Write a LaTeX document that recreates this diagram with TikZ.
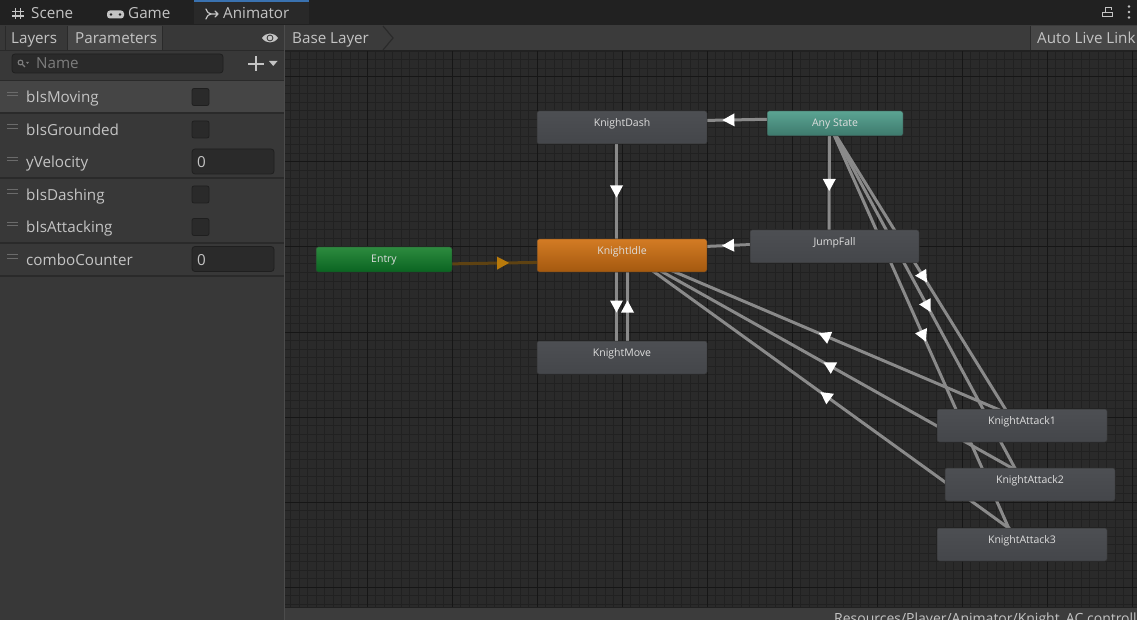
\documentclass[tikz,border=0pt]{standalone}
\usepackage{fontspec}
\setmainfont{Open Sans}
\usetikzlibrary{calc,decorations.markings}
\definecolor{gridbg}{HTML}{2a2a2a}
\definecolor{gridminor}{HTML}{212121}
\definecolor{gridmajor}{HTML}{161616}
\definecolor{panelbg}{HTML}{383838}
\definecolor{rowsel}{HTML}{454545}
\definecolor{sepline}{HTML}{2a2a2a}
\definecolor{topbar}{HTML}{212121}
\definecolor{tabsel}{HTML}{292929}
\definecolor{tabblue}{HTML}{3a72b0}
\definecolor{partab}{HTML}{464646}
\definecolor{crumb}{HTML}{3b3b3b}
\definecolor{btn}{HTML}{474747}
\definecolor{txt}{HTML}{c4c4c4}
\definecolor{dimtxt}{HTML}{7d7d7d}
\definecolor{fieldbg}{HTML}{2a2a2a}
\definecolor{fieldbd}{HTML}{1f1f1f}
\definecolor{handle}{HTML}{6b6b6b}
\definecolor{lineg}{HTML}{8a8a8a}
\definecolor{entryline}{HTML}{5e4212}
\definecolor{entryarrow}{HTML}{b97a0b}
\definecolor{gtop}{HTML}{4d4f53}
\definecolor{gbot}{HTML}{44464a}
\definecolor{otop}{HTML}{d37b24}
\definecolor{obot}{HTML}{a4590f}
\definecolor{ttop}{HTML}{5ba493}
\definecolor{tbot}{HTML}{3d796c}
\definecolor{etop}{HTML}{2d8b3f}
\definecolor{ebot}{HTML}{0a6421}
\definecolor{nodetxt}{HTML}{dedede}
\definecolor{bottombar}{HTML}{3c3c3c}
\pgfdeclarelayer{gridlayer}
\pgfdeclarelayer{edgelayer}
\pgfsetlayers{gridlayer,edgelayer,main}
\begin{document}
\begin{tikzpicture}[x=1pt,y=-1pt,
  uitxt/.style={text=txt, inner sep=0pt, anchor=base west, font=\fontsize{15.2}{17}\selectfont},
  icon/.style={draw=txt, line width=1.2pt},
  state/.style={rectangle, rounded corners=2pt, inner sep=0pt, draw=black!80, line width=0.5pt,
    text=nodetxt, font=\fontsize{10.5}{12}\selectfont, text height=8pt},
  bigst/.style={state, minimum width=170pt, minimum height=33pt, text depth=9.6pt},
  smallst/.style={state, minimum width=136pt, minimum height=25pt, text depth=1.6pt},
  greyst/.style={top color=gtop, bottom color=gbot},
  orangest/.style={top color=otop, bottom color=obot},
  tealst/.style={top color=ttop, bottom color=tbot},
  greenst/.style={top color=etop, bottom color=ebot},
  tr/.style={line width=3pt, draw=lineg,
    to path={($(\tikztostart.center)!5.5pt!-90:(\tikztotarget.center)$) -- ($(\tikztotarget.center)!5.5pt!90:(\tikztostart.center)$)}},
  mid/.style={postaction={decorate, decoration={markings,
    mark=at position 0.5 with {\fill[#1] (6pt,0pt) -- (-6pt,6.5pt) -- (-6pt,-6.5pt) -- cycle;}}}},
  checkbox/.style={fill=fieldbg, draw=fieldbd, line width=0.8pt, rounded corners=2pt},
  field/.style={fill=fieldbg, draw=fieldbd, line width=0.8pt, rounded corners=3pt},
  sep/.style={draw=sepline, line width=1.5pt},
  hnd/.style={draw=handle, line width=1pt}
]
\useasboundingbox (0,0) rectangle (1137,620);

% ---------- background and grid ----------
\begin{pgfonlayer}{gridlayer}
\fill[panelbg] (0,0) rectangle (1137,620);
\fill[gridbg] (285,51) rectangle (1137,607);
\begin{scope}
\clip (285,51) rectangle (1137,607);
\foreach \i in {0,...,101} { \draw[gridminor, line width=1pt] ({282+8.5*\i},51) -- ({282+8.5*\i},607); }
\foreach \i in {0,...,66} { \draw[gridminor, line width=1pt] (285,{51.5+8.5*\i}) -- (1137,{51.5+8.5*\i}); }
\foreach \x in {367,452,537,622,707,792,877,962,1047,1132} { \draw[gridmajor, line width=1pt] (\x,51) -- (\x,607); }
\foreach \y in {77,162,247,332,417,502,587} { \draw[gridmajor, line width=1pt] (285,\y) -- (1137,\y); }
\end{scope}
\end{pgfonlayer}

% ---------- top tab bar ----------
\fill[topbar] (0,0) rectangle (1137,25);
\fill[tabsel] (194,0) rectangle (309,25);
\fill[tabblue] (194,0) rectangle (309,2);
\draw[icon] (15.5,8) -- (15.5,19) (20.5,8) -- (20.5,19) (12,11.5) -- (24,11.5) (12,16) -- (24,16);
\node[uitxt] (tscene) at (31,19) {Scene};
\fill[txt, rounded corners=3pt] (107,10.5) rectangle (124,18.5);
\fill[topbar] (111,14.5) circle (1.3) (120,14.5) circle (1.3);
\node[uitxt] (tgame) at (128,19) {Game};
\draw[icon, line join=round, line cap=round] (206,9) .. controls (208,13) .. (211,14) -- (218,14) (215,11) -- (218,14) -- (215,17);
\draw[icon, line cap=round] (211,14) .. controls (208,15) .. (206,19);
\node[uitxt] (tanim) at (223,19) {Animator};
\draw[draw=txt, line width=1pt] (1102.5,12.5) rectangle (1112.5,17);
\draw[draw=txt, line width=1pt] (1105,12.5) -- (1105,8) -- (1111,8) -- (1111,10);
\fill[txt] (1129,6.5) circle (1.4) (1129,12) circle (1.4) (1129,17.5) circle (1.4);

% ---------- second row ----------
\fill[partab] (68,26) rectangle (162,50);
\draw[sepline, line width=1pt] (5,26) -- (5,50) (67.5,26) -- (67.5,50) (162.5,26) -- (162.5,50);
\node[uitxt] (tlayers) at (11,44) {Layers};
\node[uitxt] (tparams) at (75,44) {Parameters};
\fill[txt] (262,38) .. controls (266,32) and (274,32) .. (278,38) .. controls (274,44) and (266,44) .. (262,38) -- cycle;
\fill[panelbg] (270,38) circle (3.4);
\fill[txt] (270,38) circle (2.3);
\fill[crumb] (285,25) rectangle (1137,50.5);
\draw[sepline, line width=1.2pt] (383,26) -- (393,38) -- (383,50);
\node[uitxt] (tbase) at (292,44) {Base Layer};
\fill[btn] (1030,26) rectangle (1137,50);
\draw[sepline, line width=1pt] (1030,26) -- (1030,50);
\node[uitxt] (tlink) at (1037,44) {Auto Live Link};
\draw[topbar, line width=1pt] (0,25) -- (1137,25);
\draw[topbar, line width=1pt] (285,50.5) -- (1137,50.5);
\draw[sepline, line width=1pt] (0,50.5) -- (284,50.5);

% ---------- left panel ----------
\draw[field] (12,54) rectangle (223,73);
\draw[draw=dimtxt, line width=1.1pt] (20.5,62.5) circle (2.4) (22.3,64.3) -- (25,67);
\fill[dimtxt] (26,62) -- (29,62) -- (27.5,64) -- cycle;
\node[uitxt, text=dimtxt] (tname) at (36,68.3) {Name};
\draw[icon, line width=2pt] (248,64) -- (264,64) (256,56.5) -- (256,71.5);
\fill[txt] (269,61) -- (277.5,61) -- (273.25,66) -- cycle;

\fill[rowsel] (0,81) rectangle (284,113);
\draw[sep] (0,80.5) -- (284,80.5);
\draw[sep] (0,113) -- (284,113);
\draw[sep] (0,178) -- (284,178);
\draw[sep] (0,243) -- (284,243);
\draw[sep] (0,276) -- (284,276);

\foreach \b in {102.7,135.2,167.7,200.2,232.7,265.2} {
  \draw[hnd] (7,{\b-10.5}) -- (18,{\b-10.5}) (7,{\b-7}) -- (18,{\b-7});
}
\node[uitxt] (p1) at (26,102.7) {bIsMoving};
\node[uitxt] (p2) at (26,135.2) {bIsGrounded};
\node[uitxt] (p3) at (26,167.7) {yVelocity};
\node[uitxt] (p4) at (26,200.2) {bIsDashing};
\node[uitxt] (p5) at (26,232.7) {bIsAttacking};
\node[uitxt] (p6) at (26,265.2) {comboCounter};
\draw[checkbox] (192,88.5) rectangle (209,105.5);
\draw[checkbox] (192,121) rectangle (209,138);
\draw[checkbox] (192,186) rectangle (209,203);
\draw[checkbox] (192,218.5) rectangle (209,235.5);
\draw[field] (192,149) rectangle (274,174);
\draw[field] (192,246.5) rectangle (274,271.5);
\node[uitxt] (v3) at (197,167.7) {0};
\node[uitxt] (v6) at (197,265.2) {0};
\draw[black!70, line width=1pt] (284.5,25) -- (284.5,620);

% ---------- bottom bar ----------
\fill[bottombar] (285,607) rectangle (1137,620);
\draw[topbar, line width=1pt] (285,607) -- (1137,607);
\begin{scope}
\clip (285,607.5) rectangle (1137,620);
\node[uitxt, font=\fontsize{14}{16}\selectfont] (tpath) at (834,623.5) {Resources/Player/Animator/Knight\_AC.controller};
\end{scope}

% ---------- state nodes ----------
\node[bigst, greyst] (dash) at (622,127.5) {KnightDash};
\node[smallst, tealst] (any) at (835,123.5) {Any State};
\node[bigst, orangest] (idle) at (622,255.5) {KnightIdle};
\node[bigst, greyst, minimum width=169pt] (jf) at (834.5,246.5) {JumpFall};
\node[smallst, greenst] (entry) at (384,259.5) {Entry};
\node[bigst, greyst] (move) at (622,357.5) {KnightMove};
\node[bigst, greyst] (a1) at (1022,425.5) {KnightAttack1};
\node[bigst, greyst] (a2) at (1030,484.5) {KnightAttack2};
\node[bigst, greyst] (a3) at (1022,544.5) {KnightAttack3};

% ---------- transitions ----------
\begin{pgfonlayer}{edgelayer}
\draw[tr, mid=white] (any) to (dash);
\draw[tr, mid=white] (dash) to (idle);
\draw[tr, mid=white] (any) to (jf);
\draw[tr, mid=white] (jf) to (idle);
\draw[tr, draw=entryline, mid=entryarrow] (entry) to (idle);
\draw[tr, mid=white] (idle) to (move);
\draw[tr, mid=white] (move) to (idle);
\draw[tr, mid=white] (a1) to (idle);
\draw[tr, mid=white] (a2) to (idle);
\draw[tr, mid=white] (a3) to (idle);
\draw[tr, mid=white] (any) to (a1);
\draw[tr, mid=white] (any) to (a2);
\draw[tr, mid=white] (any) to (a3);
\end{pgfonlayer}
\end{tikzpicture}
\end{document}
